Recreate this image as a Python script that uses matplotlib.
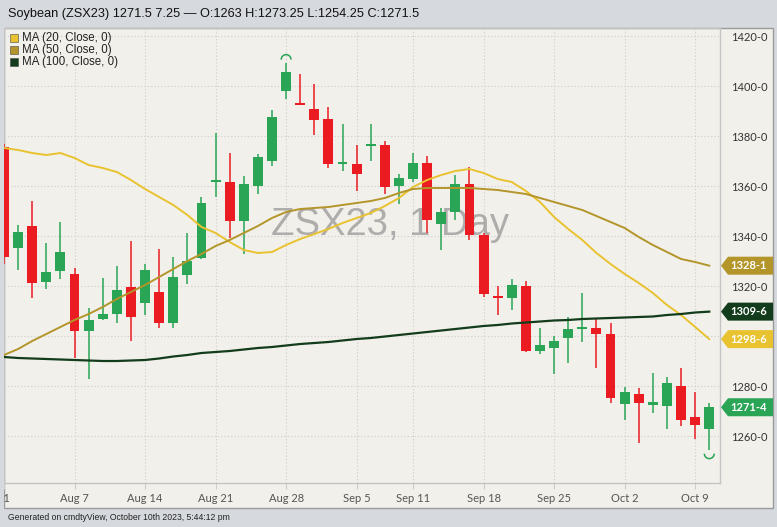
import matplotlib
matplotlib.use("Agg")
import matplotlib.pyplot as plt
import matplotlib.transforms as mtransforms
from matplotlib.patches import Rectangle, Polygon, Arc
from matplotlib.ticker import FuncFormatter

# trading days shown on the chart
days = ["Jul 31", "Aug 1", "Aug 2", "Aug 3", "Aug 4",
        "Aug 7", "Aug 8", "Aug 9", "Aug 10", "Aug 11",
        "Aug 14", "Aug 15", "Aug 16", "Aug 17", "Aug 18",
        "Aug 21", "Aug 22", "Aug 23", "Aug 24", "Aug 25",
        "Aug 28", "Aug 29", "Aug 30", "Aug 31", "Sep 1",
        "Sep 5", "Sep 6", "Sep 7", "Sep 8",
        "Sep 11", "Sep 12", "Sep 13", "Sep 14", "Sep 15",
        "Sep 18", "Sep 19", "Sep 20", "Sep 21", "Sep 22",
        "Sep 25", "Sep 26", "Sep 27", "Sep 28", "Sep 29",
        "Oct 2", "Oct 3", "Oct 4", "Oct 5", "Oct 6",
        "Oct 9", "Oct 10"]

opens = [1375.5, 1335.25, 1344, 1321.5, 1326,
         1324.75, 1302, 1306.75, 1308.75, 1319.5,
         1313.25, 1317.5, 1305.25, 1324.5, 1331.25,
         1361.5, 1361.5, 1346, 1360, 1370,
         1398, 1393.25, 1390.75, 1386.75, 1368.75,
         1368.75, 1376, 1376.5, 1360,
         1362.75, 1369.25, 1344.75, 1349.5, 1360.75,
         1340.5, 1316, 1315.25, 1320, 1294,
         1295.25, 1299.25, 1302.75, 1303.25, 1300.75,
         1272.75, 1276.75, 1272.5, 1272, 1280,
         1267.5, 1263]
highs = [1377, 1344.5, 1354, 1337.25, 1345.5,
         1327.25, 1311.25, 1323.25, 1328, 1338,
         1328.75, 1334.75, 1331.5, 1341.25, 1355.5,
         1381.25, 1373.25, 1364, 1372.75, 1390.5,
         1409.25, 1404.75, 1400.75, 1391.5, 1384.75,
         1376.5, 1384.75, 1378, 1364.75,
         1373.25, 1372, 1351.25, 1364.5, 1367.5,
         1341.25, 1320, 1322.75, 1322, 1303.25,
         1300, 1307.5, 1317.25, 1307.25, 1305.25,
         1279.5, 1279.25, 1285.25, 1283.5, 1287.25,
         1277.5, 1273.25]
lows = [1329, 1326.5, 1315.25, 1318.75, 1322.75,
        1291.25, 1282.75, 1306.25, 1305.25, 1298,
        1308.5, 1303.25, 1303.25, 1320.75, 1331,
        1355.5, 1339.25, 1332.75, 1356.75, 1368,
        1394.75, 1392.25, 1380.5, 1367.25, 1366,
        1358, 1370, 1356.75, 1352.75,
        1361.5, 1341.25, 1334.5, 1346.5, 1338.5,
        1315.5, 1308.5, 1310.5, 1293.5, 1292.75,
        1284.75, 1289.25, 1297.5, 1287.25, 1273.25,
        1266.5, 1257.25, 1269.25, 1262.75, 1264,
        1258.75, 1254.25]
closes = [1331.5, 1341.5, 1321.25, 1325.5, 1333.5,
          1302, 1306.5, 1308.75, 1318.5, 1307.5,
          1326.5, 1305.25, 1323.5, 1330, 1353.25,
          1362.5, 1346, 1360.75, 1371.5, 1387.5,
          1405.5, 1392.5, 1386.5, 1368.75, 1369.5,
          1364.75, 1376.75, 1359.5, 1363.25,
          1369.25, 1346.5, 1349.5, 1360.75, 1340.5,
          1316.75, 1315.25, 1320.5, 1294, 1296.5,
          1298, 1302.75, 1303.5, 1300.75, 1275.25,
          1277.5, 1273.25, 1273.5, 1281.25, 1266.5,
          1264.25, 1271.5]

ma20 = [1375.2, 1374.4, 1373.2, 1372.4, 1373.2,
        1371.2, 1368.4, 1367.2, 1365.6, 1362.4,
        1358.8, 1355.6, 1352.4, 1348.4, 1343.6,
        1341.2, 1337.6, 1334.4, 1333.2, 1333.6,
        1336.4, 1338.8, 1340.8, 1342.8, 1345.2,
        1347.2, 1349.2, 1352, 1355.2,
        1359.6, 1362.4, 1364.4, 1366, 1366.8,
        1365.2, 1362.8, 1361.6, 1358, 1353.6,
        1347.6, 1342.8, 1338.4, 1333.2, 1328.8,
        1324.8, 1321.2, 1317.2, 1312.4, 1308.4,
        1303.6, 1298.75]
ma50 = [1292.4, 1294.8, 1298, 1300.8, 1303.6,
        1306.4, 1308.8, 1311.6, 1314.8, 1317.6,
        1320.4, 1323.6, 1326.8, 1330, 1332.8,
        1336, 1338.4, 1341.2, 1344, 1347.2,
        1349.6, 1350.8, 1351.2, 1351.6, 1352.4,
        1353.2, 1354, 1355.2, 1357.2,
        1358.8, 1359.2, 1359.2, 1359.2, 1359.2,
        1358.8, 1358.4, 1357.6, 1356.8, 1355.2,
        1353.6, 1352, 1350.4, 1348, 1345.6,
        1343.2, 1339.6, 1336.4, 1333.6, 1330.8,
        1329.6, 1328.125]
ma100 = [1291.6, 1291.2, 1291, 1290.8, 1290.6,
         1290.4, 1290.2, 1290, 1290, 1290.2,
         1290.4, 1291, 1291.8, 1292.4, 1293.2,
         1293.6, 1294, 1294.6, 1295.2, 1295.6,
         1296.2, 1296.8, 1297.2, 1297.6, 1298.2,
         1298.8, 1299.2, 1299.8, 1300.4,
         1301, 1301.6, 1302.2, 1302.8, 1303.4,
         1304, 1304.4, 1305, 1305.4, 1305.8,
         1306.2, 1306.4, 1306.8, 1307, 1307.2,
         1307.4, 1307.6, 1307.8, 1308.4, 1308.8,
         1309.4, 1309.75]

tick_days = ["Jul 31", "Aug 7", "Aug 14", "Aug 21", "Aug 28", "Sep 5",
             "Sep 11", "Sep 18", "Sep 25", "Oct 2", "Oct 9"]
tick_labels = ["31", "Aug 7", "Aug 14", "Aug 21", "Aug 28", "Sep 5",
               "Sep 11", "Sep 18", "Sep 25", "Oct 2", "Oct 9"]
price_ticks = [1260, 1280, 1300, 1320, 1340, 1360, 1380, 1400, 1420]
hidden_price = [1300]   # label sits under the value tags

title = "Soybean (ZSX23) 1271.5 7.25 \u2014 O:1263 H:1273.25 L:1254.25 C:1271.5"
footer = "Generated on cmdtyView, October 10th 2023, 5:44:12 pm"

UP = "#2aa556"
DOWN = "#ea1c22"
C20 = "#e9c230"
C50 = "#b3952a"
C100 = "#123c1c"
BG_OUT = "#d6d9dd"
BG_IN = "#f2f0eb"

W, H = 777, 527


def fx(px):
    return px / W


def fy(py):
    return 1 - py / H


def eighths(v, pos=None):
    return f"{int(v)}-{int(round((v % 1) * 8))}"


def axis_label(v, pos=None):
    if v in hidden_price:
        return ""
    return eighths(v)


fig = plt.figure(figsize=(W / 100, H / 100), dpi=100, facecolor=BG_OUT)

# light panel holding plot and axes
fig.patches.append(Rectangle((fx(4), fy(508)), fx(769), 480 / H,
                             transform=fig.transFigure, facecolor=BG_IN,
                             edgecolor="#9a9a9a", linewidth=1, zorder=-5))

ax = fig.add_axes([fx(4), fy(483), fx(716), 455 / H])
ax.set_facecolor(BG_IN)
ax.patch.set_alpha(0)

x = list(range(len(days)))
ax.set_xlim(0.198, 50.76)
ax.set_ylim(1241.2, 1423.2)

# candles
for i in x:
    o, h, l, c = opens[i], highs[i], lows[i], closes[i]
    col = UP if c >= o else DOWN
    ax.vlines(i, l, h, color=col, linewidth=1.1, zorder=3)
    body = max(abs(c - o), 0.8)
    ax.bar(i, body, bottom=min(o, c), width=0.7, color=col, linewidth=0, zorder=4)

ax.plot(x, ma20, color=C20, linewidth=1.4, zorder=5)
ax.plot(x, ma50, color=C50, linewidth=1.4, zorder=5)
ax.plot(x, ma100, color=C100, linewidth=1.6, zorder=5)

# period high / low markers
hi = highs.index(max(highs))
lo = lows.index(min(lows))
ax.add_patch(Arc((hi, highs[hi] + 1.3), 0.7, 4.0, theta1=0, theta2=180,
                 color=UP, linewidth=1.1, zorder=5))
ax.add_patch(Arc((lo, lows[lo] - 1.3), 0.7, 4.0, theta1=180, theta2=360,
                 color=UP, linewidth=1.1, zorder=5))

# watermark
ax.text(fx(390), fy(235), "ZSX23, 1 Day", transform=fig.transFigure,
        ha="center", va="baseline", fontsize=27.5, color="#9d9d9d",
        alpha=0.8, family="Liberation Sans", zorder=1)

# grid and axes styling
ax.set_xticks([days.index(d) for d in tick_days])
ax.set_xticklabels(tick_labels)
ax.set_yticks(price_ticks)
ax.yaxis.set_major_formatter(FuncFormatter(axis_label))
ax.yaxis.tick_right()
ax.grid(True, color="#cdcdcd", linestyle=(0, (1, 2)), linewidth=0.8, zorder=0)
ax.set_axisbelow(True)
ax.tick_params(axis="y", length=0, pad=8, labelsize=8, labelcolor="#333333")
ax.tick_params(axis="x", length=4, width=0.8, color="#cdcdcd", pad=3,
               labelsize=8, labelcolor="#555555")
for lab in ax.get_xticklabels() + ax.get_yticklabels():
    lab.set_family("Lato")
for s in ax.spines.values():
    s.set_color("#c4c4c4")
    s.set_linewidth(1)

# cover the clipped part of the first date label
fig.patches.append(Rectangle((0, 0), fx(4), 1, transform=fig.transFigure,
                             facecolor=BG_OUT, edgecolor="none", zorder=5))

# value tags on the right axis
tr = mtransforms.blended_transform_factory(fig.transFigure, ax.transData)
for v, col in [(ma50[-1], C50), (ma100[-1], C100), (ma20[-1], C20), (closes[-1], UP)]:
    pts = [(fx(721), v), (fx(728), v + 3.6), (fx(773), v + 3.6),
           (fx(773), v - 3.6), (fx(728), v - 3.6)]
    fig.patches.append(Polygon(pts, closed=True, transform=tr, facecolor=col,
                               edgecolor="none", zorder=6))
    fig.text(fx(749), v, eighths(v), transform=tr, ha="center", va="center",
             fontsize=8, color="white", family="Lato", fontweight="bold", zorder=7)

# legend
for k, (lab, col) in enumerate([("MA (20, Close, 0)", C20),
                                ("MA (50, Close, 0)", C50),
                                ("MA (100, Close, 0)", C100)]):
    yc = 38 + 12 * k
    fig.patches.append(Rectangle((fx(10), fy(yc + 4)), fx(8), 8 / H,
                                 transform=fig.transFigure, facecolor=col,
                                 edgecolor="#444444", linewidth=0.4, zorder=6))
    fig.text(fx(22), fy(yc), lab, ha="left", va="center", fontsize=8.3,
             color="#222222", family="Liberation Sans", zorder=7)

fig.text(fx(8), fy(14), title, ha="left", va="center", fontsize=9.2,
         color="#111111", family="Liberation Sans")
fig.text(fx(8), fy(517), footer, ha="left", va="center", fontsize=6.2,
         color="#222222", family="Liberation Sans")

fig.savefig("out.png", dpi=100, facecolor=BG_OUT)
